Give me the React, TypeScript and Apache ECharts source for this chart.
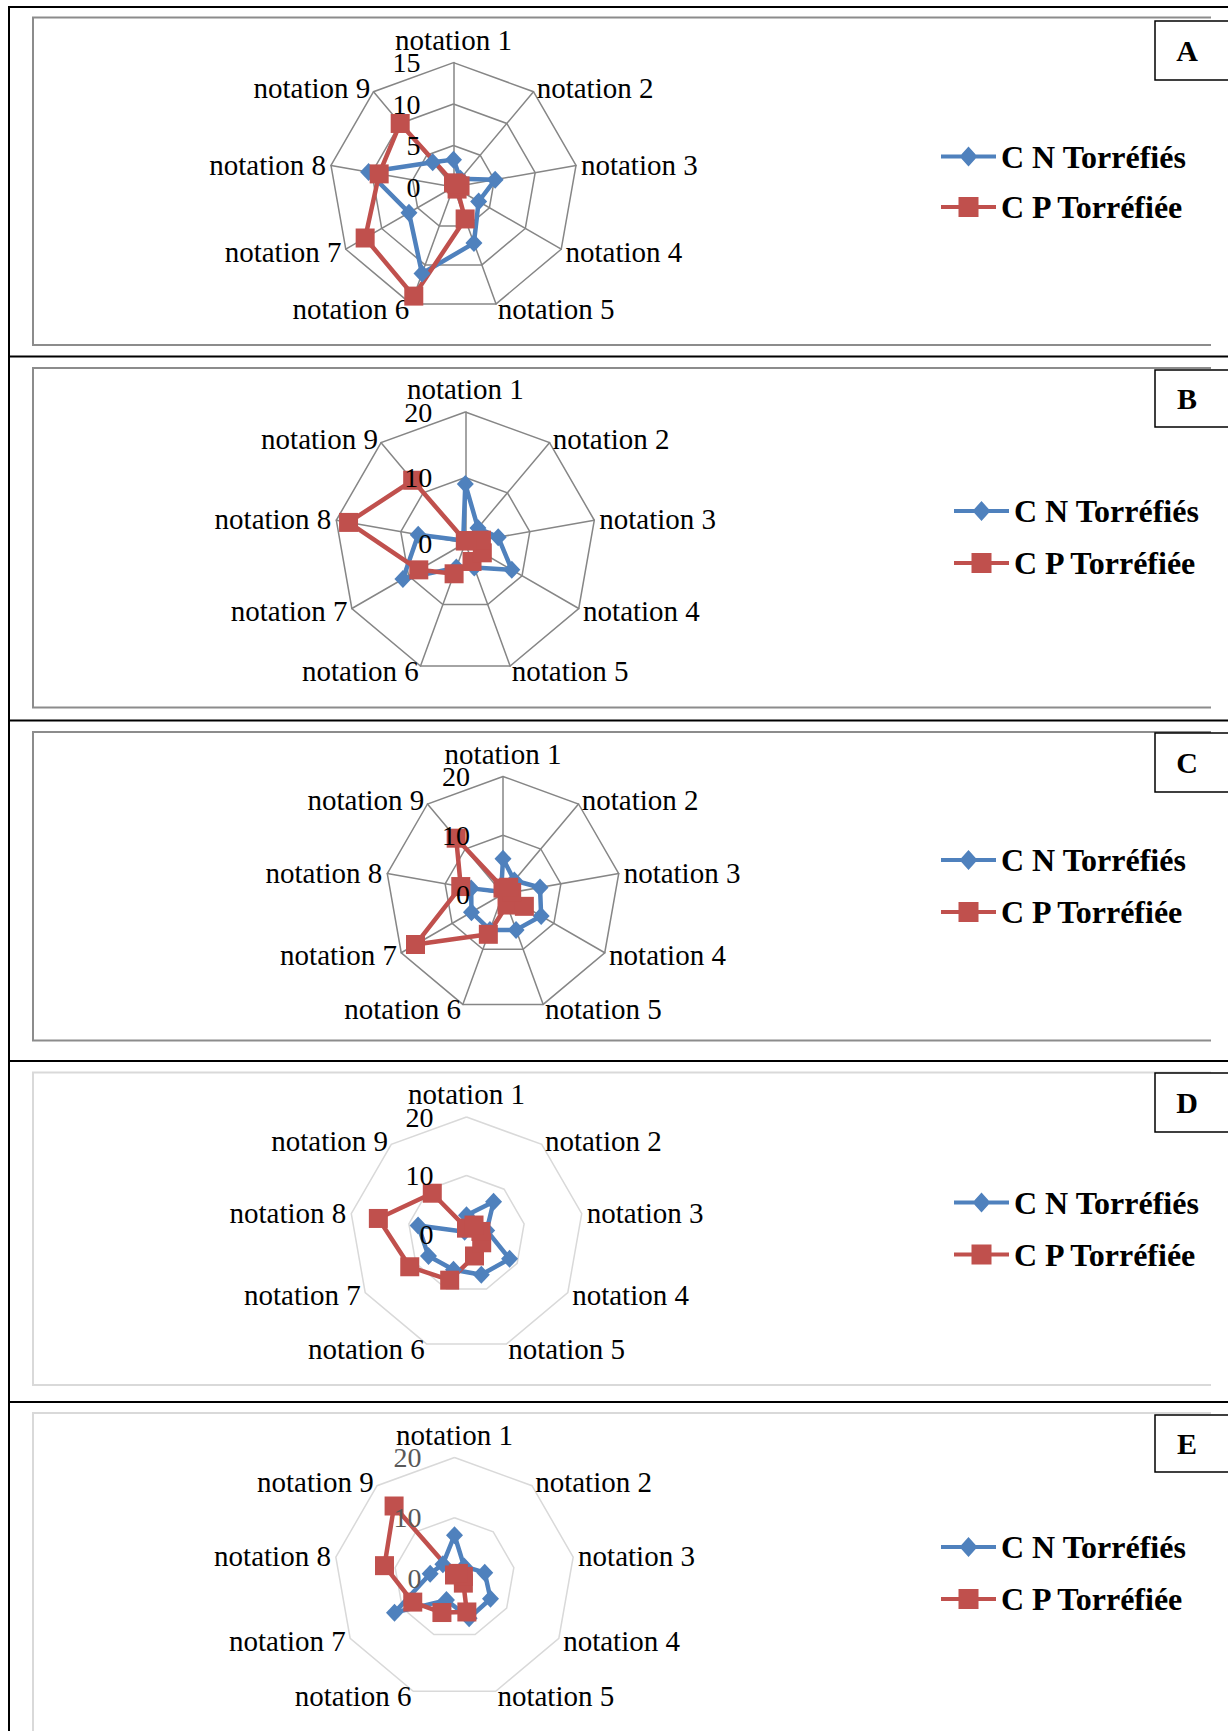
import React, { useEffect, useRef } from "react";
import * as echarts from "echarts";

const categories = [
  "notation 1", "notation 2", "notation 3", "notation 4", "notation 5",
  "notation 6", "notation 7", "notation 8", "notation 9",
];
const seriesNames = ["C N Torréfiés", "C P Torréfiée"];
const panelLetters = ["A", "B", "C", "D", "E"];
const panelMax = [15, 20, 20, 20, 20];
const panelSplits = [3, 2, 2, 2, 2];

// values in order notation 1..9
const aBlue = [3.3, 1.3, 5.1, 3.5, 7.2, 11.1, 6.2, 10.4, 3.9];
const aRed = [0.5, 0.5, 0.8, 0.5, 4.1, 14, 12.3, 9.1, 10];
const bBlue = [9, 3, 5.1, 8.2, 4, 4, 11, 7.3, 0.5];
const bRed = [0.3, 0.5, 2.5, 3, 3, 5, 8.2, 18.1, 12.5];
const cBlue = [6, 3, 6.4, 7.5, 6.5, 6.5, 6.2, 5.5, 0.5];
const cRed = [1, 1.5, 1.5, 4.2, 2, 7.3, 17.2, 7.3, 12.4];
const dBlue = [3.2, 7.2, 3.5, 8.5, 7.4, 6.5, 7.5, 8.4, 0.5];
const dRed = [1, 2, 2.5, 3, 4, 8.4, 11.2, 15.3, 9.1];
const eBlue = [7.1, 2.5, 5.1, 6.9, 7.1, 3.9, 11.5, 4.1, 3];
const eRed = [0.5, 1, 1.5, 1.7, 6, 6.1, 8, 11.8, 15.6];

const blueSets = [aBlue, bBlue, cBlue, dBlue, eBlue];
const redSets = [aRed, bRed, cRed, dRed, eRed];

// layout (pixels)
const W = 1228;
const H = 1731;
const centers = [[453.5, 187], [465.3, 543], [503, 894], [466.5, 1234], [454.5, 1578]];
const radii = [124.4, 131, 117.5, 117, 120.5];
const boxTop = [17.5, 368, 732, 1072.5, 1413];
const boxBottom = [345, 707.5, 1040.5, 1385, 1740];
const dividers = [356.5, 720.5, 1061, 1402];
const labelBoxTop = [21, 370, 733, 1073, 1415];
const labelBoxH = [59, 57, 59, 59, 57];
const legendLeft = [941, 954, 941, 954, 941];
const legendCenter = [156.5, 511, 860, 1202.5, 1547];
const legendGap = [18.5, 20, 20, 20, 20];

const BLUE = "#4f81bd";
const RED = "#c0504d";
const SERIF = "'Liberation Serif', 'Times New Roman', serif";

// ECharts radar runs counter-clockwise; reverse to get clockwise order
const clockwise = <T,>(arr: T[]): T[] => [arr[0], ...arr.slice(1).reverse()];

const blueIcon = "path://M0,8H55V12H0Z M27.5,0L36.5,10L27.5,20L18.5,10Z";
const redIcon = "path://M0,8H55V12H0Z M17.5,0H37.5V20H17.5Z";

export default function App() {
  const ref = useRef<HTMLDivElement>(null);
  useEffect(() => {
    if (!ref.current) return;
    const chart = echarts.init(ref.current, undefined, { renderer: "svg" });
    const ordered = clockwise(categories);

    // grid radars (under the series)
    const gridRadars = panelLetters.map((_, i) => {
      const light = i >= 3;
      const gridColor = light ? "#d9d9d9" : "#868686";
      return {
        z: 0,
        center: centers[i],
        radius: radii[i],
        startAngle: 90,
        shape: "polygon",
        splitNumber: panelSplits[i],
        nameGap: 5,
        axisName: { color: "#000", fontSize: 29, fontFamily: SERIF },
        indicator: ordered.map((c, j) =>
          j === 0
            ? { name: c, min: 0, max: panelMax[i], nameGap: 8.5 }
            : { name: c, min: 0, max: panelMax[i] }
        ),
        splitLine: { lineStyle: { color: gridColor, width: 1.5 } },
        splitArea: { show: false },
        axisLine: { show: !light, lineStyle: { color: gridColor, width: 1.5 } },
        axisTick: { show: false },
        axisLabel: { show: false },
      };
    });
    // label radars (tick labels drawn above the series)
    const labelRadars = panelLetters.map((_, i) => ({
      z: 5,
      center: centers[i],
      radius: radii[i],
      startAngle: 90,
      shape: "polygon",
      splitNumber: panelSplits[i],
      axisName: { show: false },
      indicator: ordered.map((c, j) => ({
        name: c,
        min: 0,
        max: panelMax[i],
        axisLabel: { show: j === 0 },
      })),
      splitLine: { show: false },
      splitArea: { show: false },
      axisLine: { show: false },
      axisTick: { show: false },
      axisLabel: {
        show: false,
        color: i === 4 ? "#595959" : "#000",
        fontSize: 28,
        fontFamily: SERIF,
        margin: 33,
      },
    }));

    const series: any[] = [];
    panelLetters.forEach((_, i) => {
      series.push({
        type: "radar",
        radarIndex: i,
        z: 2,
        silent: true,
        symbol: "diamond",
        symbolSize: [17, 18],
        itemStyle: { color: BLUE, borderWidth: 0 },
        lineStyle: { color: BLUE, width: 4.5, join: "round" },
        data: [{ name: seriesNames[0], value: clockwise(blueSets[i]) }],
      });
      series.push({
        type: "radar",
        radarIndex: i,
        z: 2,
        silent: true,
        symbol: "rect",
        symbolSize: 19,
        itemStyle: { color: RED, borderWidth: 0 },
        lineStyle: { color: RED, width: 4.5, join: "round" },
        data: [{ name: seriesNames[1], value: clockwise(redSets[i]) }],
      });
    });

    const legend = panelLetters.map((_, i) => ({
      orient: "vertical",
      left: legendLeft[i],
      top: legendCenter[i] - 16,
      padding: 0,
      itemWidth: 55,
      itemHeight: 20,
      itemGap: legendGap[i],
      selectedMode: false,
      itemStyle: { borderWidth: 0 },
      textStyle: {
        fontSize: 32,
        fontWeight: "bold",
        fontFamily: SERIF,
        color: "#000",
        lineHeight: 32,
      },
      data: [
        { name: seriesNames[0], icon: blueIcon },
        { name: seriesNames[1], icon: redIcon },
      ],
    }));

    const graphic: any[] = [];
    // inner chart boxes
    panelLetters.forEach((_, i) => {
      const light = i >= 3;
      graphic.push({
        type: "polyline",
        silent: true,
        shape: {
          points: [
            [1211, boxTop[i]],
            [33, boxTop[i]],
            [33, boxBottom[i]],
            [1211, boxBottom[i]],
          ],
        },
        style: { stroke: light ? "#d9d9d9" : "#8c8c8c", lineWidth: 2, fill: null },
      });
    });
    // outer black frame
    graphic.push({
      type: "line",
      silent: true,
      shape: { x1: 9, y1: 7, x2: W, y2: 7 },
      style: { stroke: "#000", lineWidth: 2 },
    });
    graphic.push({
      type: "line",
      silent: true,
      shape: { x1: 9, y1: 6, x2: 9, y2: H },
      style: { stroke: "#000", lineWidth: 2 },
    });
    dividers.forEach((y) =>
      graphic.push({
        type: "line",
        silent: true,
        shape: { x1: 9, y1: y, x2: W, y2: y },
        style: { stroke: "#000", lineWidth: 2 },
      })
    );
    // panel letter boxes
    panelLetters.forEach((letter, i) => {
      graphic.push({
        type: "rect",
        silent: true,
        z: 10,
        shape: { x: 1155, y: labelBoxTop[i], width: 90, height: labelBoxH[i] },
        style: { stroke: "#000", lineWidth: 1.5, fill: "#fff" },
      });
      graphic.push({
        type: "text",
        silent: true,
        z: 11,
        x: 1187,
        y: labelBoxTop[i] + labelBoxH[i] / 2,
        style: {
          text: letter,
          fontSize: 30,
          fontWeight: "bold",
          fontFamily: SERIF,
          fill: "#000",
          align: "center",
          verticalAlign: "middle",
        },
      });
    });

    chart.setOption({
      animation: false,
      backgroundColor: "#fff",
      radar: [...gridRadars, ...labelRadars],
      legend,
      series,
      graphic,
    });
    return () => chart.dispose();
  }, []);

  return (
    <div
      ref={ref}
      style={{ position: "absolute", left: 0, top: 0, width: W, height: H }}
    />
  );
}
